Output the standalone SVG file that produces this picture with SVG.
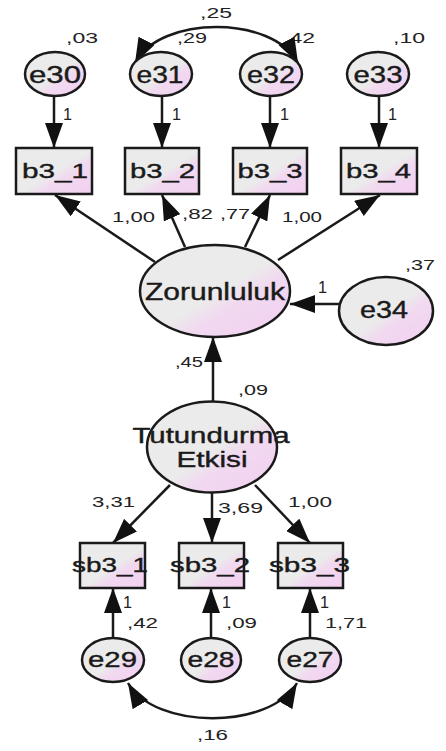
<svg xmlns="http://www.w3.org/2000/svg" width="446" height="751" viewBox="0 0 446 751">
<defs>
<linearGradient id="fillg" x1="0" y1="0" x2="1" y2="1">
<stop offset="0" stop-color="#ebebeb"/>
<stop offset="0.52" stop-color="#ebebeb"/>
<stop offset="0.64" stop-color="#f1d9f0"/>
<stop offset="1" stop-color="#f3cff1"/>
</linearGradient>
<marker id="ah" viewBox="0 0 25 18" refX="25" refY="9" markerWidth="25" markerHeight="18" markerUnits="userSpaceOnUse" orient="auto-start-reverse">
<path d="M0,0 L25,9 L0,18 z" fill="#111"/>
</marker>
<style>
.shape{fill:url(#fillg);stroke:#1a1a1a;stroke-width:2.5}
.con{fill:none;stroke:#1a1a1a;stroke-width:2.5}
.arr{marker-end:url(#ah)}
.both{marker-start:url(#ah);marker-end:url(#ah)}
.nt{font-family:"Liberation Sans",Arial,sans-serif;fill:#1a1a1a;stroke:#1a1a1a;stroke-width:0.4;text-anchor:middle}
.lb{font-family:"Liberation Sans",Arial,sans-serif;font-size:15px;fill:#222}
.one{font-size:16px}
</style>
</defs>
<rect width="446" height="751" fill="#ffffff"/>
<g id="labels">
<text class="lb" x="200" y="18" textLength="32" lengthAdjust="spacingAndGlyphs">,25</text>
<text class="lb" x="66" y="43" textLength="32" lengthAdjust="spacingAndGlyphs">,03</text>
<text class="lb" x="177" y="43" textLength="30" lengthAdjust="spacingAndGlyphs">,29</text>
<text class="lb" x="283" y="43" textLength="32" lengthAdjust="spacingAndGlyphs">,42</text>
<text class="lb" x="393" y="43" textLength="32" lengthAdjust="spacingAndGlyphs">,10</text>
<text class="lb one" x="63" y="120" textLength="9" lengthAdjust="spacingAndGlyphs">1</text>
<text class="lb one" x="172" y="120" textLength="9" lengthAdjust="spacingAndGlyphs">1</text>
<text class="lb one" x="280" y="120" textLength="9" lengthAdjust="spacingAndGlyphs">1</text>
<text class="lb one" x="388" y="120" textLength="9" lengthAdjust="spacingAndGlyphs">1</text>
<text class="lb" x="112" y="222" textLength="43" lengthAdjust="spacingAndGlyphs">1,00</text>
<text class="lb" x="182" y="219" textLength="31" lengthAdjust="spacingAndGlyphs">,82</text>
<text class="lb" x="220" y="219" textLength="30" lengthAdjust="spacingAndGlyphs">,77</text>
<text class="lb" x="282" y="222" textLength="40" lengthAdjust="spacingAndGlyphs">1,00</text>
<text class="lb" x="405" y="270" textLength="30" lengthAdjust="spacingAndGlyphs">,37</text>
<text class="lb one" x="318" y="293" textLength="9" lengthAdjust="spacingAndGlyphs">1</text>
<text class="lb" x="175" y="367" textLength="28" lengthAdjust="spacingAndGlyphs">,45</text>
<text class="lb" x="238" y="395" textLength="30" lengthAdjust="spacingAndGlyphs">,09</text>
<text class="lb" x="92" y="507" textLength="43" lengthAdjust="spacingAndGlyphs">3,31</text>
<text class="lb" x="218" y="513" textLength="45" lengthAdjust="spacingAndGlyphs">3,69</text>
<text class="lb" x="288" y="507" textLength="44" lengthAdjust="spacingAndGlyphs">1,00</text>
<text class="lb one" x="123" y="608" textLength="9" lengthAdjust="spacingAndGlyphs">1</text>
<text class="lb one" x="222" y="608" textLength="9" lengthAdjust="spacingAndGlyphs">1</text>
<text class="lb one" x="320" y="608" textLength="9" lengthAdjust="spacingAndGlyphs">1</text>
<text class="lb" x="127" y="628" textLength="31" lengthAdjust="spacingAndGlyphs">,42</text>
<text class="lb" x="226" y="628" textLength="31" lengthAdjust="spacingAndGlyphs">,09</text>
<text class="lb" x="325" y="628" textLength="42" lengthAdjust="spacingAndGlyphs">1,71</text>
<text class="lb" x="197" y="740" textLength="31" lengthAdjust="spacingAndGlyphs">,16</text>
</g>
<g id="connectors">
<line class="con arr" x1="54" y1="96" x2="54" y2="148"/>
<line class="con arr" x1="162" y1="96" x2="162" y2="148"/>
<line class="con arr" x1="270" y1="96" x2="270" y2="148"/>
<line class="con arr" x1="379" y1="96" x2="379" y2="148"/>
<path class="con both" d="M135 63 C160 15 273 15 298 63"/>
<line class="con arr" x1="155" y1="262" x2="55" y2="195"/>
<line class="con arr" x1="185" y1="247" x2="162" y2="195"/>
<line class="con arr" x1="245" y1="247" x2="270" y2="195"/>
<line class="con arr" x1="278" y1="260" x2="380" y2="195"/>
<line class="con arr" x1="339" y1="304" x2="290" y2="304"/>
<line class="con arr" x1="213" y1="402" x2="213" y2="337"/>
<line class="con arr" x1="170" y1="485" x2="113" y2="543"/>
<line class="con arr" x1="212" y1="493" x2="212" y2="543"/>
<line class="con arr" x1="255" y1="485" x2="310" y2="543"/>
<line class="con arr" x1="113" y1="638" x2="113" y2="588"/>
<line class="con arr" x1="211" y1="638" x2="211" y2="588"/>
<line class="con arr" x1="310" y1="638" x2="310" y2="588"/>
<path class="con both" d="M128 683 C155 730 270 730 297 683"/>
</g>
<g id="e30"><ellipse class="shape" cx="55" cy="74" rx="30" ry="22"/><text class="nt" x="55" y="83" font-size="24" textLength="52" lengthAdjust="spacingAndGlyphs">e30</text></g>
<g id="e31"><ellipse class="shape" cx="161" cy="74" rx="31" ry="22"/><text class="nt" x="160" y="83" font-size="24" textLength="47" lengthAdjust="spacingAndGlyphs">e31</text></g>
<g id="e32"><ellipse class="shape" cx="271" cy="74" rx="31" ry="22"/><text class="nt" x="271" y="83" font-size="24" textLength="48" lengthAdjust="spacingAndGlyphs">e32</text></g>
<g id="e33"><ellipse class="shape" cx="378" cy="74" rx="31" ry="22"/><text class="nt" x="378" y="83" font-size="24" textLength="49" lengthAdjust="spacingAndGlyphs">e33</text></g>
<g id="b3_1"><rect class="shape" x="16" y="148" width="76" height="46"/><text class="nt" x="55" y="178" font-size="21" textLength="66" lengthAdjust="spacingAndGlyphs">b3_1</text></g>
<g id="b3_2"><rect class="shape" x="125" y="148" width="74" height="46"/><text class="nt" x="162.5" y="178" font-size="21" textLength="65" lengthAdjust="spacingAndGlyphs">b3_2</text></g>
<g id="b3_3"><rect class="shape" x="233" y="148" width="74" height="46"/><text class="nt" x="270" y="178" font-size="21" textLength="65" lengthAdjust="spacingAndGlyphs">b3_3</text></g>
<g id="b3_4"><rect class="shape" x="341" y="148" width="76" height="46"/><text class="nt" x="378.5" y="178" font-size="21" textLength="65" lengthAdjust="spacingAndGlyphs">b3_4</text></g>
<g id="Zorunluluk"><ellipse class="shape" cx="215" cy="291" rx="75" ry="46"/><text class="nt" x="215" y="300" font-size="23" textLength="140" lengthAdjust="spacingAndGlyphs">Zorunluluk</text></g>
<g id="e34"><ellipse class="shape" cx="386" cy="311" rx="47" ry="34"/><text class="nt" x="384" y="318" font-size="24" textLength="48" lengthAdjust="spacingAndGlyphs">e34</text></g>
<g id="TutundurmaEtkisi"><ellipse class="shape" cx="212" cy="447" rx="65" ry="45.5"/><text class="nt" x="211" y="443" font-size="22" textLength="157" lengthAdjust="spacingAndGlyphs">Tutundurma</text><text class="nt" x="212" y="467" font-size="22" textLength="71" lengthAdjust="spacingAndGlyphs">Etkisi</text></g>
<g id="sb3_1"><rect class="shape" x="80" y="543" width="65" height="45"/><text class="nt" x="110" y="572" font-size="21" textLength="76" lengthAdjust="spacingAndGlyphs">sb3_1</text></g>
<g id="sb3_2"><rect class="shape" x="179" y="543" width="65" height="45"/><text class="nt" x="210" y="572" font-size="21" textLength="80" lengthAdjust="spacingAndGlyphs">sb3_2</text></g>
<g id="sb3_3"><rect class="shape" x="278" y="543" width="65" height="45"/><text class="nt" x="309.5" y="572" font-size="21" textLength="81" lengthAdjust="spacingAndGlyphs">sb3_3</text></g>
<g id="e29"><ellipse class="shape" cx="113" cy="660" rx="31" ry="22"/><text class="nt" x="112.5" y="667" font-size="22" textLength="49" lengthAdjust="spacingAndGlyphs">e29</text></g>
<g id="e28"><ellipse class="shape" cx="211" cy="660" rx="30" ry="22"/><text class="nt" x="211" y="667" font-size="22" textLength="47" lengthAdjust="spacingAndGlyphs">e28</text></g>
<g id="e27"><ellipse class="shape" cx="310" cy="660" rx="31" ry="22"/><text class="nt" x="310" y="667" font-size="22" textLength="47" lengthAdjust="spacingAndGlyphs">e27</text></g>
</svg>
